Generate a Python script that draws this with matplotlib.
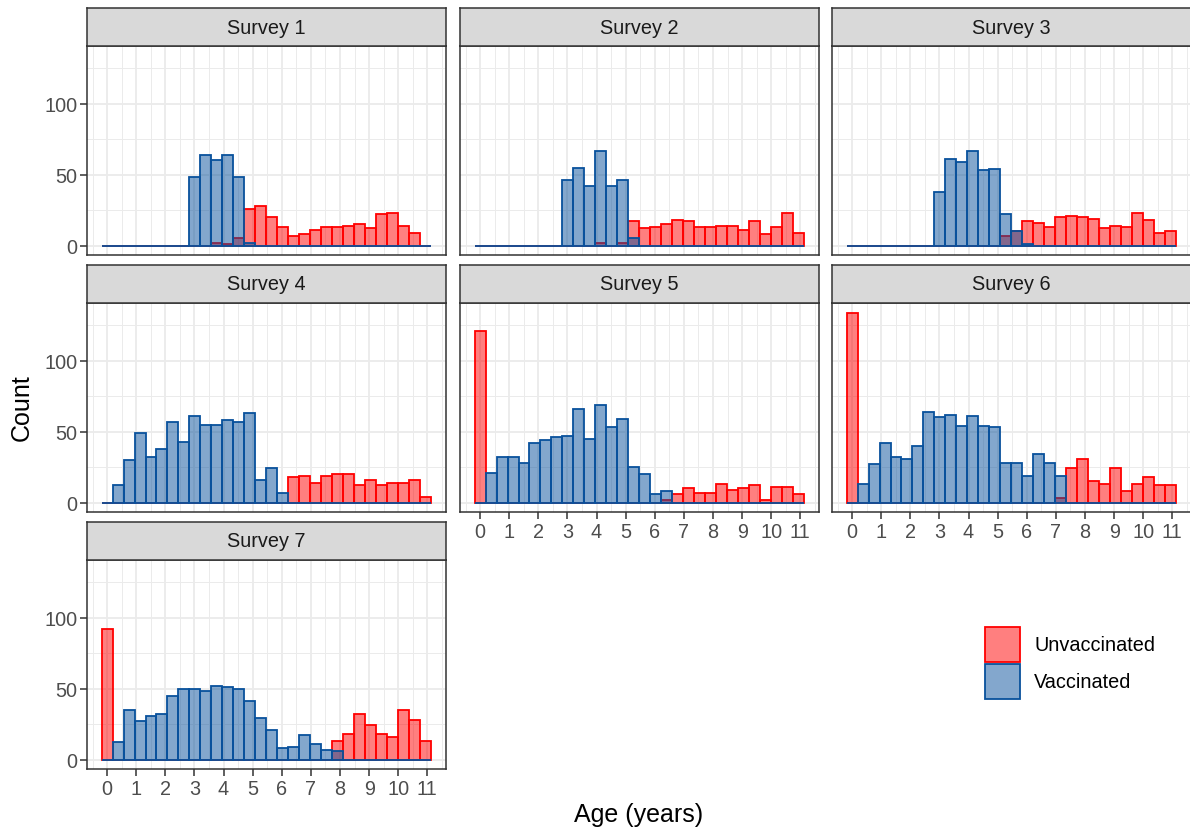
import numpy as np
import matplotlib
matplotlib.use("Agg")
import matplotlib.pyplot as plt
from matplotlib.patches import Rectangle

plt.rcParams['font.family'] = ['Liberation Sans', 'DejaVu Sans']

# histogram bins (30 bins, ggplot default), age in years
bin_width = 0.377
bin_centers = np.arange(30) * bin_width

survey_names = ["Survey 1", "Survey 2", "Survey 3", "Survey 4", "Survey 5", "Survey 6", "Survey 7"]
legend_labels = ["Unvaccinated", "Vaccinated"]

s1_unvacc = [0, 0, 0, 0, 0, 0, 0, 0, 0, 0, 2, 1, 5, 26, 28, 20, 13, 7, 8, 11, 13, 13, 14, 15, 12, 22, 23, 14, 9, 0]
s1_vacc = [0, 0, 0, 0, 0, 0, 0, 0, 48, 64, 60, 64, 48, 2, 0, 0, 0, 0, 0, 0, 0, 0, 0, 0, 0, 0, 0, 0, 0, 0]

s2_unvacc = [0, 0, 0, 0, 0, 0, 0, 0, 0, 0, 0, 2, 0, 2, 17, 12, 13, 15, 18, 17, 13, 13, 14, 14, 11, 17, 8, 13, 23, 9]
s2_vacc = [0, 0, 0, 0, 0, 0, 0, 0, 46, 55, 42, 67, 42, 46, 5, 0, 0, 0, 0, 0, 0, 0, 0, 0, 0, 0, 0, 0, 0, 0]

s3_unvacc = [0, 0, 0, 0, 0, 0, 0, 0, 0, 0, 0, 0, 0, 0, 7, 10, 17, 16, 13, 20, 21, 20, 19, 12, 14, 13, 23, 18, 9, 10]
s3_vacc = [0, 0, 0, 0, 0, 0, 0, 0, 38, 61, 59, 67, 53, 54, 22, 10, 1, 0, 0, 0, 0, 0, 0, 0, 0, 0, 0, 0, 0, 0]

s4_unvacc = [0, 0, 0, 0, 0, 0, 0, 0, 0, 0, 0, 0, 0, 0, 0, 0, 0, 18, 19, 14, 19, 20, 20, 12, 16, 12, 14, 14, 16, 4]
s4_vacc = [0, 12, 30, 49, 32, 38, 57, 43, 61, 55, 55, 58, 57, 63, 16, 24, 7, 0, 0, 0, 0, 0, 0, 0, 0, 0, 0, 0, 0, 0]

s5_unvacc = [121, 0, 0, 0, 0, 0, 0, 0, 0, 0, 0, 0, 0, 0, 0, 0, 0, 2, 6, 10, 7, 7, 13, 9, 10, 12, 2, 11, 11, 6]
s5_vacc = [0, 21, 32, 32, 28, 42, 44, 46, 47, 66, 45, 69, 53, 59, 25, 20, 6, 8, 0, 0, 0, 0, 0, 0, 0, 0, 0, 0, 0, 0]

s6_unvacc = [134, 0, 0, 0, 0, 0, 0, 0, 0, 0, 0, 0, 0, 0, 0, 0, 0, 0, 0, 3, 24, 31, 15, 13, 24, 8, 13, 18, 12, 12]
s6_vacc = [0, 13, 27, 42, 32, 31, 40, 64, 60, 62, 54, 61, 54, 53, 28, 28, 19, 34, 28, 19, 0, 0, 0, 0, 0, 0, 0, 0, 0, 0]

s7_unvacc = [92, 0, 0, 0, 0, 0, 0, 0, 0, 0, 0, 0, 0, 0, 0, 0, 0, 0, 0, 0, 0, 13, 18, 32, 24, 18, 16, 35, 28, 13]
s7_vacc = [0, 12, 35, 27, 31, 32, 45, 50, 50, 48, 52, 51, 50, 41, 29, 21, 8, 9, 17, 11, 7, 6, 0, 0, 0, 0, 0, 0, 0, 0]

unvacc_all = [s1_unvacc, s2_unvacc, s3_unvacc, s4_unvacc, s5_unvacc, s6_unvacc, s7_unvacc]
vacc_all = [s1_vacc, s2_vacc, s3_vacc, s4_vacc, s5_vacc, s6_vacc, s7_vacc]

red = '#FF0000'
blue = '#08519C'
red_fill = matplotlib.colors.to_rgba(red, 0.5)
blue_fill = matplotlib.colors.to_rgba(blue, 0.5)

W, H = 1190, 829
fig = plt.figure(figsize=(W / 100, H / 100), dpi=100)


def px_axes(left, top, w, h):
    return fig.add_axes([left / W, 1 - (top + h) / H, w / W, h / H])


col_left = [87, 460, 832]
row_top = [47, 304, 561]
pw, ph, sh = 359, 209, 38

for i, name in enumerate(survey_names):
    r, c = divmod(i, 3)
    ax = px_axes(col_left[c], row_top[r], pw, ph)

    # unvaccinated first, vaccinated drawn on top (as ggplot does)
    ax.bar(bin_centers, unvacc_all[i], width=bin_width, facecolor=red_fill,
           edgecolor=red, linewidth=1.3)
    ax.bar(bin_centers, vacc_all[i], width=bin_width, facecolor=blue_fill,
           edgecolor=blue, linewidth=1.3)

    ax.set_xlim(-0.69, 11.64)
    ax.set_ylim(-6.7, 140.7)
    ax.set_xticks(range(12))
    ax.set_xticks(np.arange(-0.5, 12, 1), minor=True)
    ax.set_yticks([0, 50, 100])
    ax.set_yticks([25, 75, 125], minor=True)
    ax.set_axisbelow(True)
    ax.grid(which='major', color='#EBEBEB', linewidth=1.3)
    ax.grid(which='minor', color='#EBEBEB', linewidth=0.7)
    ax.tick_params(which='minor', length=0)
    ax.tick_params(which='major', length=5, width=1.1, color='#333333',
                   labelsize=14.3, labelcolor='#4D4D4D', pad=2)
    for sp in ax.spines.values():
        sp.set_color('#333333')
        sp.set_linewidth(1.1)

    if c != 0:
        ax.tick_params(axis='y', left=False, labelleft=False)
    if i not in (4, 5, 6):
        ax.tick_params(axis='x', bottom=False, labelbottom=False)

    # facet strip
    st = px_axes(col_left[c], row_top[r] - sh, pw, sh)
    st.set_facecolor('#D9D9D9')
    st.set_xticks([])
    st.set_yticks([])
    for sp in st.spines.values():
        sp.set_color('#333333')
        sp.set_linewidth(1.1)
    st.text(0.5, 0.5, name, transform=st.transAxes, ha='center', va='center',
            fontsize=14.3, color='#1A1A1A')

fig.text(22 / W, 1 - 408 / H, 'Count', rotation=90, ha='center', va='center', fontsize=18)
fig.text(639 / W, 1 - 815 / H, 'Age (years)', ha='center', va='center', fontsize=18)

# legend keys
key_fills = [red_fill, blue_fill]
key_edges = [red, blue]
for j, lab in enumerate(legend_labels):
    top = 628 + j * 37
    fig.add_artist(Rectangle((985 / W, 1 - (top + 35) / H), 35 / W, 35 / H,
                             transform=fig.transFigure, facecolor=key_fills[j],
                             edgecolor=key_edges[j], linewidth=1.3))
    fig.text(1034 / W, 1 - (top + 18) / H, lab, ha='left', va='center',
             fontsize=14.3, color='#000000')

fig.savefig('out.png', dpi=100)
